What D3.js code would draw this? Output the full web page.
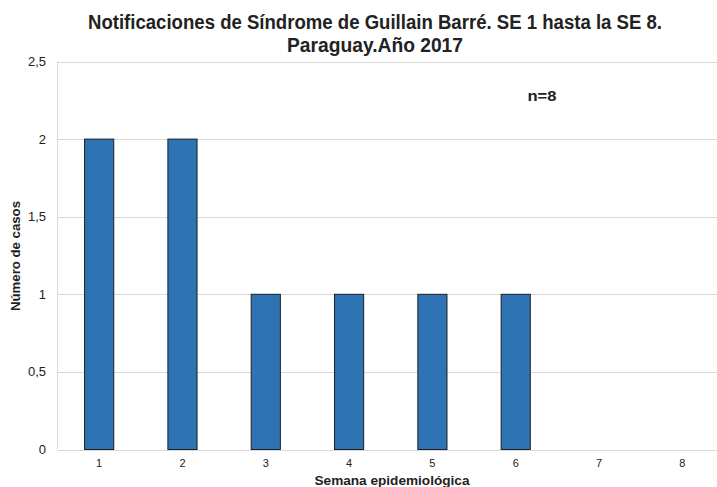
<!DOCTYPE html>
<html>
<head>
<meta charset="utf-8">
<script src="https://cdn.jsdelivr.net/npm/d3@7"></script>
<style>
  html, body { margin: 0; padding: 0; background: #fff; }
  svg { display: block; }
  text { font-family: "Liberation Sans", Arial, sans-serif; fill: #222; }
</style>
</head>
<body>
<script>
// Weekly notifications of Guillain-Barré syndrome, Paraguay 2017
const semanas = ["1", "2", "3", "4", "5", "6", "7", "8"];
const casos = [2, 2, 1, 1, 1, 1, 0, 0];
const yTicks = [0, 0.5, 1, 1.5, 2, 2.5];
const titulo = ["Notificaciones de Síndrome de Guillain Barré. SE 1 hasta la SE 8.", "Paraguay.Año 2017"];
const tituloAncho = [574, 176];

const W = 717, H = 487;
const svg = d3.select("body").append("svg").attr("width", W).attr("height", H);

const plotL = 57.5, plotR = 724, plotT = 61.5, plotB = 449.5;

const x = d3.scaleBand().domain(semanas).range([plotL, plotR]).paddingInner(0.65).paddingOuter(0.325);
const y = d3.scaleLinear().domain([0, 2.5]).range([plotB, plotT]);

const fmt = v => String(v).replace(".", ",");

// horizontal grid lines
svg.append("g").selectAll("line").data(yTicks).join("line")
  .attr("x1", plotL).attr("x2", plotR)
  .attr("y1", d => Math.round(y(d)) + 0.5).attr("y2", d => Math.round(y(d)) + 0.5)
  .attr("stroke", "#d9d9d9").attr("stroke-width", 1);

// left axis line
svg.append("line").attr("x1", plotL).attr("x2", plotL).attr("y1", plotT).attr("y2", plotB)
  .attr("stroke", "#d9d9d9");

// y tick labels
svg.append("g").selectAll("text").data(yTicks).join("text")
  .attr("x", 46).attr("y", d => y(d) + 4.5)
  .attr("text-anchor", "end").attr("font-size", 13).attr("fill", "#333")
  .text(fmt);

// bars
svg.append("g").selectAll("rect").data(casos.map((v, i) => ({ s: semanas[i], v })).filter(d => d.v > 0)).join("rect")
  .attr("x", d => x(d.s)).attr("width", x.bandwidth())
  .attr("y", d => y(d.v)).attr("height", d => y(0) - y(d.v))
  .attr("fill", "#2e74b5").attr("stroke", "#1b1f24").attr("stroke-width", 1);

// x tick labels
svg.append("g").selectAll("text").data(semanas).join("text")
  .attr("x", d => x(d) + x.bandwidth() / 2).attr("y", 467)
  .attr("text-anchor", "middle").attr("font-size", 11).attr("fill", "#333")
  .text(d => d);

// title (condensed to fit)
svg.append("g").selectAll("text").data(titulo).join("text")
  .attr("x", 375).attr("y", (d, i) => 29 + i * 23)
  .attr("text-anchor", "middle").attr("font-size", 20).attr("font-weight", "bold").attr("fill", "#333")
  .attr("textLength", (d, i) => tituloAncho[i]).attr("lengthAdjust", "spacingAndGlyphs")
  .text(d => d);

// n annotation
svg.append("text")
  .attr("x", 542).attr("y", 101).attr("text-anchor", "middle")
  .attr("font-size", 14).attr("font-weight", "bold").attr("fill", "#333")
  .attr("textLength", 29).attr("lengthAdjust", "spacingAndGlyphs").text("n=8");

// axis titles
svg.append("text")
  .attr("transform", "translate(20,256) rotate(-90)").attr("text-anchor", "middle")
  .attr("font-size", 13).attr("font-weight", "bold").attr("fill", "#333")
  .attr("textLength", 110).attr("lengthAdjust", "spacingAndGlyphs").text("Número de casos");

svg.append("text")
  .attr("x", 392).attr("y", 485).attr("text-anchor", "middle")
  .attr("font-size", 13).attr("font-weight", "bold").attr("fill", "#333")
  .attr("textLength", 155).attr("lengthAdjust", "spacingAndGlyphs").text("Semana epidemiológica");
</script>
</body>
</html>
